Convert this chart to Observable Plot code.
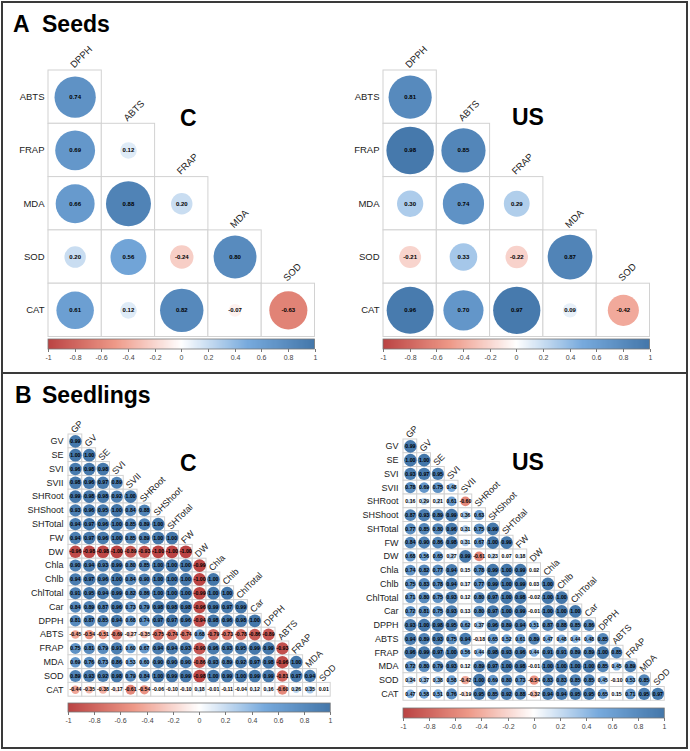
<!DOCTYPE html>
<html><head><meta charset="utf-8">
<script src="https://cdn.jsdelivr.net/npm/d3@7"></script>
<script src="https://cdn.jsdelivr.net/npm/@observablehq/plot@0.6"></script>
<style>
body{margin:0;background:#fff;}
#fig{position:relative;width:690px;height:751px;overflow:hidden;background:#fff;font-family:"Liberation Sans",Arial,sans-serif;}
.box{position:absolute;border:2px solid #3a3a3a;box-sizing:border-box;}
.t{position:absolute;font-weight:bold;font-size:23px;line-height:23px;color:#000;white-space:nowrap;font-family:"Liberation Sans",Arial,sans-serif;}
#fig svg{position:absolute;overflow:visible;}
</style></head><body>
<div id="fig">
  <div class="box" style="left:1px;top:1px;width:687px;height:373px;"></div>
  <div class="box" style="left:1px;top:372px;width:687px;height:377px;"></div>
  <div class="t" style="left:13px;top:13px;">A</div>
  <div class="t" style="left:42px;top:13px;">Seeds</div>
  <div class="t" style="left:15px;top:384px;">B</div>
  <div class="t" style="left:42px;top:384px;">Seedlings</div>
  <div class="t" style="left:180px;top:107px;">C</div>
  <div class="t" style="left:512px;top:106px;">US</div>
  <div class="t" style="left:180px;top:452px;">C</div>
  <div class="t" style="left:512px;top:451px;">US</div>
</div>
<script>
// ---------- data ----------
const seedVars = ["DPPH","ABTS","FRAP","MDA","SOD","CAT"];
const seedsC = [
  [0.74],
  [0.69, 0.12],
  [0.66, 0.88, 0.20],
  [0.20, 0.56, -0.24, 0.80],
  [0.61, 0.12, 0.82, -0.07, -0.63]
];
const seedsUS = [
  [0.81],
  [0.98, 0.85],
  [0.30, 0.74, 0.29],
  [-0.21, 0.33, -0.22, 0.87],
  [0.96, 0.70, 0.97, 0.09, -0.42]
];
const seedlingVars = ["GP","GV","SE","SVI","SVII","SHRoot","SHShoot","SHTotal","FW","DW","Chla","Chlb","ChlTotal","Car","DPPH","ABTS","FRAP","MDA","SOD","CAT"];
const seedlingsC = [
  [0.99],
  [1.00, 1.00],
  [0.96, 0.98, 0.98],
  [0.98, 0.96, 0.97, 0.89],
  [0.99, 0.98, 0.98, 0.92, 1.00],
  [0.93, 0.96, 0.95, 1.00, 0.84, 0.88],
  [0.94, 0.97, 0.96, 1.00, 0.85, 0.89, 1.00],
  [0.94, 0.97, 0.96, 1.00, 0.85, 0.89, 1.00, 1.00],
  [-0.96, -0.98, -0.98, -1.00, -0.89, -0.93, -1.00, -1.00, -1.00],
  [0.90, 0.94, 0.93, 0.99, 0.80, 0.85, 1.00, 1.00, 1.00, -0.99],
  [0.94, 0.97, 0.96, 1.00, 0.84, 0.90, 1.00, 1.00, 1.00, -1.00, 1.00],
  [0.91, 0.95, 0.94, 0.99, 0.82, 0.86, 1.00, 1.00, 1.00, -0.99, 1.00, 1.00],
  [0.84, 0.89, 0.87, 0.96, 0.73, 0.79, 0.98, 0.98, 0.98, -0.96, 0.99, 0.97, 0.99],
  [0.81, 0.87, 0.85, 0.94, 0.68, 0.74, 0.97, 0.97, 0.96, -0.94, 0.98, 0.96, 0.98, 1.00],
  [-0.45, -0.54, -0.51, -0.69, -0.27, -0.35, -0.75, -0.74, -0.74, 0.68, -0.79, -0.73, -0.78, -0.86, -0.89],
  [0.75, 0.81, 0.79, 0.91, 0.60, 0.67, 0.94, 0.94, 0.93, -0.90, 0.96, 0.93, 0.95, 0.99, 0.99, -0.93],
  [0.69, 0.76, 0.73, 0.86, 0.53, 0.60, 0.90, 0.90, 0.90, -0.86, 0.93, 0.89, 0.92, 0.97, 0.98, -0.96, 1.00],
  [0.89, 0.93, 0.92, 0.98, 0.79, 0.84, 1.00, 0.99, 0.99, -0.98, 1.00, 0.99, 1.00, 0.99, 0.99, -0.81, 0.97, 0.94],
  [-0.44, -0.35, -0.38, -0.17, -0.61, -0.54, -0.06, -0.10, -0.10, 0.18, -0.01, -0.11, -0.04, 0.12, 0.16, -0.60, 0.26, 0.35, 0.01]
];
const seedlingsUS = [
  [0.99],
  [1.00, 1.00],
  [0.93, 0.97, 0.95],
  [0.78, 0.69, 0.75, 0.48],
  [0.16, 0.29, 0.21, 0.61, -0.60],
  [0.87, 0.93, 0.89, 0.99, 0.36, 0.63],
  [0.77, 0.85, 0.80, 0.96, 0.31, 0.75, 0.99],
  [0.84, 0.90, 0.86, 0.98, 0.31, 0.67, 1.00, 0.99],
  [0.68, 0.56, 0.65, 0.27, 0.99, -0.61, 0.23, 0.07, 0.18],
  [0.74, 0.82, 0.77, 0.94, 0.15, 0.78, 0.99, 1.00, 0.99, 0.02],
  [0.75, 0.83, 0.78, 0.94, 0.17, 0.77, 0.99, 1.00, 0.99, 0.03, 1.00],
  [0.71, 0.80, 0.75, 0.93, 0.12, 0.80, 0.97, 1.00, 0.98, -0.02, 1.00, 1.00],
  [0.72, 0.81, 0.75, 0.93, 0.13, 0.80, 0.97, 1.00, 0.99, -0.01, 1.00, 1.00, 1.00],
  [0.93, 1.00, 0.98, 0.95, 0.62, 0.37, 0.96, 0.89, 0.94, 0.51, 0.87, 0.88, 0.85, 0.86],
  [0.94, 0.89, 0.93, 0.75, 0.94, -0.18, 0.65, 0.52, 0.61, 0.89, 0.47, 0.48, 0.44, 0.48, 0.85],
  [0.96, 0.99, 0.97, 1.00, 0.56, 0.44, 0.98, 0.93, 0.96, 0.44, 0.91, 0.91, 0.89, 0.89, 1.00, 0.85],
  [0.72, 0.80, 0.79, 0.93, 0.12, 0.89, 0.97, 1.00, 0.98, -0.01, 1.00, 1.00, 1.00, 1.00, 0.85, 0.45, 0.89],
  [0.34, 0.37, 0.38, 0.58, -0.42, 1.00, 0.69, 0.80, 0.73, -0.54, 0.83, 0.83, 0.85, 0.85, 0.45, -0.10, 0.53, 0.85],
  [0.47, 0.58, 0.51, 0.76, -0.19, 0.95, 0.85, 0.92, 0.88, -0.32, 0.94, 0.94, 0.95, 0.95, 0.65, 0.15, 0.71, 0.95, 0.97]
];
const paletteStops = [-1, -0.5, 0, 0.5, 1];
const palette = ["#BB4444", "#EE9988", "#FFFFFF", "#77AADD", "#4477AA"];
const legendTicks = [-1, -0.8, -0.6, -0.4, -0.2, 0, 0.2, 0.4, 0.6, 0.8, 1];

// ---------- drawing ----------
const FONT = "'Liberation Sans', Arial, sans-serif";
const fig = document.getElementById("fig");

function tidy(vars, vals) {
  const out = [];
  vals.forEach((row, i) => row.forEach((v, j) => out.push({row: vars[i + 1], col: vars[j], v})));
  return out;
}

function matrix(vars, vals, o) {
  const rows = vars.slice(1), cols = vars.slice(0, -1);
  const n = cols.length, c = o.cell;
  const data = tidy(vars, vals);
  const heads = cols.map((col, j) => ({col, row: rows[j]}));
  const chart = Plot.plot({
    width: o.width, height: o.height,
    marginLeft: o.gx - o.left, marginTop: o.gy - o.top,
    marginRight: o.left + o.width - (o.gx + n * c),
    marginBottom: o.top + o.height - (o.gy + n * c),
    style: {fontFamily: FONT, overflow: "visible", background: "transparent"},
    x: {type: "band", domain: cols, padding: 0, round: false, axis: null},
    y: {type: "band", domain: rows, padding: 0, round: false, axis: null},
    r: {type: "sqrt", domain: [0, 1], range: [0, c * o.rk]},
    color: {type: "linear", domain: paletteStops, range: palette, interpolate: "rgb"},
    marks: [
      Plot.cell(data, {x: "col", y: "row", fill: "white", stroke: "#d2d2d2", strokeWidth: 1}),
      Plot.dot(data, {x: "col", y: "row", r: d => Math.abs(d.v), fill: "v"}),
      Plot.text(data, {x: "col", y: "row", text: d => d.v.toFixed(2), fontSize: o.numSize, fontWeight: "bold", fill: "black"}),
      Plot.axisY({tickSize: 0, tickPadding: o.pad, fontSize: o.labSize, label: null, color: "#222"}),
      Plot.text(heads, {x: "col", y: "row", text: "col", rotate: -45, textAnchor: "start", lineAnchor: "bottom",
        dx: o.hdx, dy: -c / 2 - o.hdy, fontSize: o.labSize, fill: "#222"})
    ]
  });
  chart.style.left = o.left + "px";
  chart.style.top = o.top + "px";
  fig.appendChild(chart);

  const barH = o.barH, mT = 4, H = 32;
  const leg = chart.legend("color", {
    width: o.width, height: H,
    marginLeft: o.gx - o.left, marginRight: o.left + o.width - (o.gx + n * c),
    marginTop: mT, marginBottom: H - mT - barH,
    ticks: legendTicks, tickFormat: d => String(+d.toFixed(1)), tickSize: 3, label: null,
    style: {fontFamily: FONT, color: "#444", background: "transparent", overflow: "visible"}
  });
  const s = d3.select(leg);
  s.selectAll(".tick line").attr("y1", 0).attr("stroke", "#777");
  s.selectAll("g").attr("font-size", null).attr("font-family", null);
  s.selectAll("text").attr("font-size", 7).style("font-size", "7px").attr("fill", "#444");
  s.append("rect").attr("x", o.gx - o.left).attr("y", mT).attr("width", n * c).attr("height", barH)
    .attr("fill", "none").attr("stroke", "#777").attr("stroke-width", 0.8);
  leg.style.position = "absolute";
  leg.style.left = o.left + "px";
  leg.style.top = (o.barTop - mT) + "px";
  fig.appendChild(leg);
}

matrix(seedVars, seedsC, {left: 0, top: 0, width: 345, height: 340, gx: 48, gy: 70, cell: 53.3, rk: 0.45,
  numSize: 6, labSize: 9.5, pad: 4, hdx: -1, hdy: 2, barTop: 339, barH: 10});
matrix(seedVars, seedsUS, {left: 345, top: 0, width: 345, height: 340, gx: 383, gy: 70, cell: 53.3, rk: 0.45,
  numSize: 6, labSize: 9.5, pad: 4, hdx: -1, hdy: 2, barTop: 339, barH: 10});
matrix(seedlingVars, seedlingsC, {left: 0, top: 375, width: 345, height: 335, gx: 68, gy: 434, cell: 13.8, rk: 0.46,
  numSize: 5.2, labSize: 9, pad: 5, hdx: -1, hdy: 1, barTop: 703, barH: 9});
matrix(seedlingVars, seedlingsUS, {left: 345, top: 375, width: 345, height: 335, gx: 403, gy: 439, cell: 13.75, rk: 0.46,
  numSize: 5.2, labSize: 9, pad: 5, hdx: -1, hdy: 1, barTop: 708, barH: 10});
</script>
</body></html>
